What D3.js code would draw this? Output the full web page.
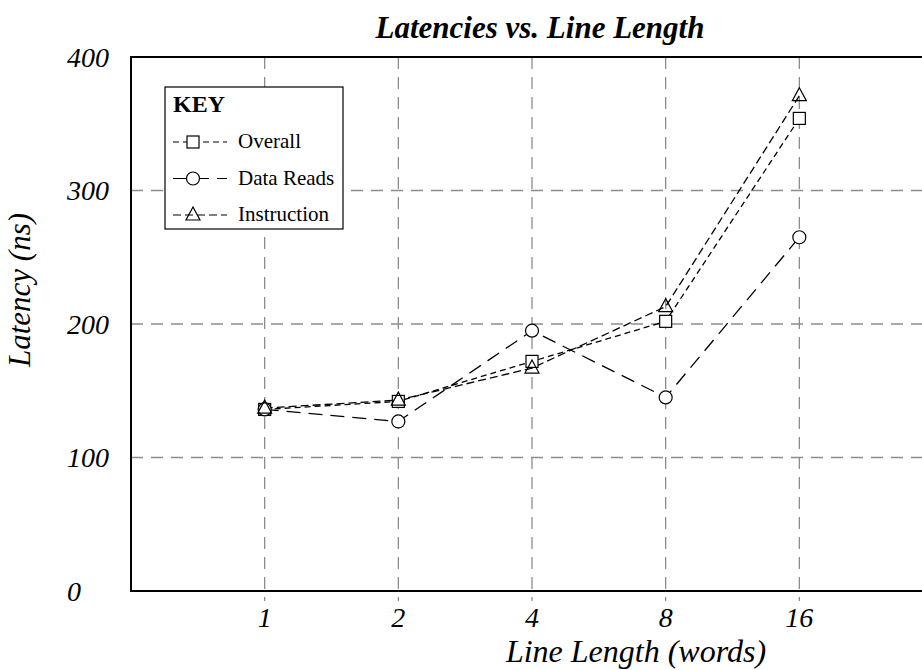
<!DOCTYPE html>
<html>
<head>
<meta charset="utf-8">
<script src="https://cdn.jsdelivr.net/npm/d3@7"></script>
<style>
  body { margin: 0; background: #fff; }
  text { font-family: "Liberation Serif", "Times New Roman", serif; }
</style>
</head>
<body>
<script>
// chart data
var categories = ["1", "2", "4", "8", "16"];
var overall = [136, 142, 172, 202, 354];
var dataReads = [136, 127, 195, 145, 265];
var instruction = [137, 143, 167, 213, 371];
var yTicks = [0, 100, 200, 300, 400];

var series = [
  {name: "Overall", values: overall, marker: "square", dash: "6,4"},
  {name: "Data Reads", values: dataReads, marker: "circle", dash: "14,8"},
  {name: "Instruction", values: instruction, marker: "triangle", dash: "8,4"}
];

var margin = {top: 57, left: 131},
    width = 802,   // categories sit at 1..5 of a 0..6 range
    height = 534;

var svg = d3.select("body").append("svg")
    .attr("width", 922)
    .attr("height", 670)
  .append("g")
    .attr("transform", "translate(" + margin.left + "," + margin.top + ")");

var x = d3.scaleLinear().domain([0, categories.length + 1]).range([0, width]);
var y = d3.scaleLinear().domain([0, 400]).range([height, 0]);

var grey = "#8c8c8c";

// vertical gridlines
svg.append("g")
    .selectAll("line")
    .data(categories)
    .enter().append("line")
      .attr("x1", function(d, i) { return x(i + 1); })
      .attr("x2", function(d, i) { return x(i + 1); })
      .attr("y1", 0)
      .attr("y2", height + 10)
      .attr("stroke", grey)
      .attr("stroke-width", 1.3)
      .attr("stroke-dasharray", "12,8");

// horizontal gridlines
svg.append("g")
    .selectAll("line")
    .data(yTicks.slice(1, -1))
    .enter().append("line")
      .attr("x1", 0)
      .attr("x2", width + 200)
      .attr("y1", function(d) { return y(d); })
      .attr("y2", function(d) { return y(d); })
      .attr("stroke", grey)
      .attr("stroke-width", 1.3)
      .attr("stroke-dasharray", "12,8");

// frame (right edge falls outside the window)
svg.append("rect")
    .attr("x", 0).attr("y", 0)
    .attr("width", width + 200).attr("height", height)
    .attr("fill", "none")
    .attr("stroke", "#000")
    .attr("stroke-width", 2);

// y tick labels, left aligned
svg.append("g")
    .selectAll("text")
    .data(yTicks)
    .enter().append("text")
      .attr("x", -64)
      .attr("y", function(d) { return y(d); })
      .attr("dy", "0.35em")
      .style("font-size", "28px")
      .style("font-style", "italic")
      .text(function(d) { return d; });

// x tick labels
svg.append("g")
    .selectAll("text")
    .data(categories)
    .enter().append("text")
      .attr("x", function(d, i) { return x(i + 1); })
      .attr("y", height + 36)
      .attr("text-anchor", "middle")
      .style("font-size", "28px")
      .style("font-style", "italic")
      .text(function(d) { return d; });

// axis titles
svg.append("text")
    .attr("x", 505)
    .attr("y", height + 71)
    .attr("text-anchor", "middle")
    .style("font-size", "32px")
    .style("font-style", "italic")
    .text("Line Length (words)");

svg.append("text")
    .attr("transform", "translate(" + (-101) + "," + 233 + ") rotate(-90)")
    .attr("text-anchor", "middle")
    .style("font-size", "31px")
    .style("font-style", "italic")
    .text("Latency (ns)");

svg.append("text")
    .attr("x", 409)
    .attr("y", -19)
    .attr("text-anchor", "middle")
    .style("font-size", "31px")
    .style("font-style", "italic")
    .style("font-weight", "bold")
    .text("Latencies vs. Line Length");

var line = d3.line()
    .x(function(d, i) { return x(i + 1); })
    .y(function(d) { return y(d); });

function drawMarker(g, type, cx, cy) {
  if (type === "square") {
    g.append("rect")
      .attr("x", cx - 6).attr("y", cy - 6)
      .attr("width", 12).attr("height", 12)
      .attr("fill", "#fff").attr("stroke", "#000").attr("stroke-width", 1.2);
  } else if (type === "circle") {
    g.append("circle")
      .attr("cx", cx).attr("cy", cy).attr("r", 6.5)
      .attr("fill", "#fff").attr("stroke", "#000").attr("stroke-width", 1.2);
  } else {
    g.append("path")
      .attr("d", "M" + cx + "," + (cy - 8) + "L" + (cx + 7) + "," + (cy + 5) + "L" + (cx - 7) + "," + (cy + 5) + "Z")
      .attr("fill", "none").attr("stroke", "#000").attr("stroke-width", 1.2);
  }
}

// lines
series.forEach(function(s) {
  svg.append("path")
    .datum(s.values)
    .attr("d", line)
    .attr("fill", "none")
    .attr("stroke", "#000")
    .attr("stroke-width", 1.3)
    .attr("stroke-dasharray", s.dash);
});

// markers
series.forEach(function(s) {
  var g = svg.append("g");
  s.values.forEach(function(v, i) { drawMarker(g, s.marker, x(i + 1), y(v)); });
});

// legend
var legend = svg.append("g").attr("transform", "translate(34,30)");
legend.append("rect")
    .attr("width", 178).attr("height", 142)
    .attr("fill", "#fff").attr("stroke", "#000").attr("stroke-width", 1.2);
legend.append("text")
    .attr("x", 8).attr("y", 25)
    .style("font-size", "24px")
    .style("font-weight", "bold")
    .text("KEY");
series.forEach(function(s, i) {
  var ly = 55 + i * 36.5;
  legend.append("line")
    .attr("x1", 8).attr("x2", 62)
    .attr("y1", ly).attr("y2", ly)
    .attr("stroke", "#000").attr("stroke-width", 1.2)
    .attr("stroke-dasharray", s.dash);
  drawMarker(legend, s.marker, 28, ly);
  legend.append("text")
    .attr("x", 73).attr("y", ly + 6)
    .style("font-size", "21px")
    .text(s.name);
});
</script>
</body>
</html>
